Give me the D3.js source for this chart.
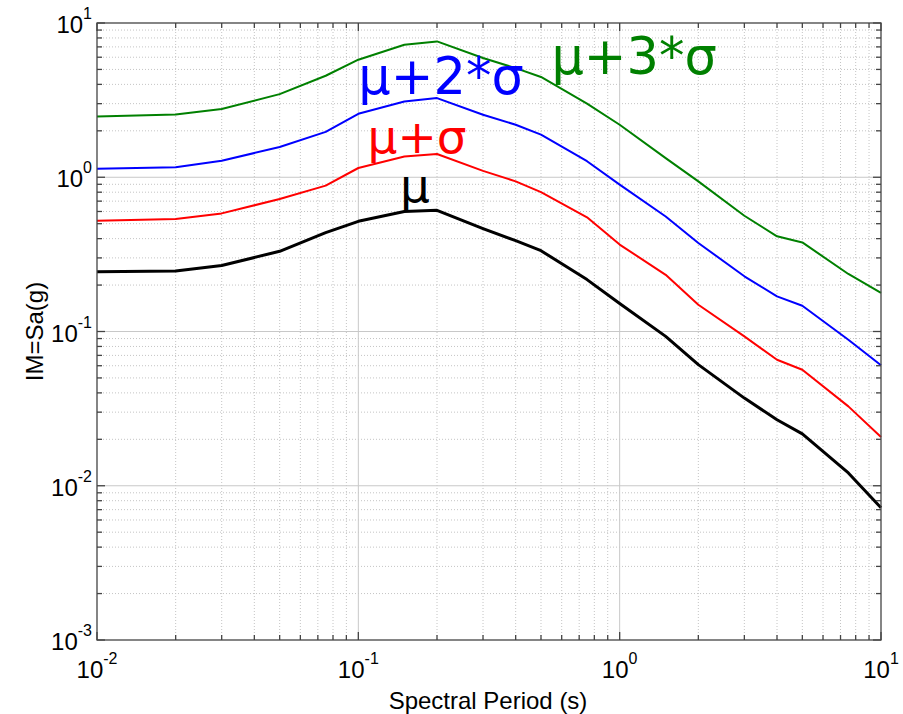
<!DOCTYPE html>
<html>
<head>
<meta charset="utf-8">
<script src="https://cdn.jsdelivr.net/npm/d3@7"></script>
<style>
  html, body { margin: 0; padding: 0; background: #fff; }
  svg { display: block; }
</style>
</head>
<body>
<svg id="chart" width="903" height="714"></svg>
<script>
// Spectral periods (s)
const periods = [0.01, 0.02, 0.03, 0.05, 0.075, 0.1, 0.15, 0.2, 0.3, 0.4, 0.5, 0.75, 1.0, 1.5, 2, 3, 4, 5, 7.5, 10];

// Spectral acceleration Sa (g) for each curve
const mu       = [0.244, 0.247, 0.268, 0.331, 0.437, 0.518, 0.600, 0.610, 0.465, 0.388, 0.334, 0.217, 0.152, 0.093, 0.061, 0.037, 0.0268, 0.0217, 0.0121, 0.0072];
const muPlus1  = [0.523, 0.536, 0.583, 0.723, 0.883, 1.148, 1.365, 1.415, 1.100, 0.940, 0.800, 0.550, 0.366, 0.233, 0.149, 0.093, 0.0656, 0.0565, 0.0327, 0.0207];
const muPlus2  = [1.135, 1.160, 1.280, 1.570, 1.970, 2.580, 3.100, 3.260, 2.540, 2.190, 1.890, 1.270, 0.895, 0.557, 0.375, 0.228, 0.169, 0.147, 0.0885, 0.0604];
const muPlus3  = [2.480, 2.550, 2.770, 3.460, 4.550, 5.780, 7.230, 7.600, 5.930, 5.100, 4.470, 3.000, 2.190, 1.330, 0.940, 0.563, 0.414, 0.378, 0.236, 0.178];

// Curve names, colours, and where each name sits (period, Sa)
const seriesNames  = ["μ", "μ+σ", "μ+2*σ", "μ+3*σ"];
const seriesColors = ["#000000", "#ff0000", "#0000ff", "#008000"];
const seriesWidths = [3, 2, 2, 2];
const labelPeriods = [0.1445, 0.1085, 0.1, 0.548];
const labelValues  = [0.696, 1.44, 3.49, 4.67];
const labelSizes   = [47, 47, 51, 51];

// Axis ranges and tick exponents
const xDomain = [0.01, 10];
const yDomain = [0.001, 10];
const xTickExps = [-2, -1, 0, 1];
const yTickExps = [-3, -2, -1, 0, 1];
const xTitle = "Spectral Period (s)";
const yTitle = "IM=Sa(g)";

const svg = d3.select("#chart");
const L = 97, R = 881, T = 23, B = 640;

const x = d3.scaleLog().domain(xDomain).range([L, R]);
const y = d3.scaleLog().domain(yDomain).range([B, T]);

// minor/major tick values
function logTicks(domain) {
  const out = [];
  const lo = Math.round(Math.log10(domain[0])), hi = Math.round(Math.log10(domain[1]));
  for (let e = lo; e < hi; e++) for (let m = 2; m <= 9; m++) out.push(m * Math.pow(10, e));
  return out;
}
const xMinor = logTicks(xDomain), yMinor = logTicks(yDomain);
const xMajor = xTickExps.map(e => Math.pow(10, e));
const yMajor = yTickExps.map(e => Math.pow(10, e));

const grid = svg.append("g");
// minor grid (dotted)
grid.selectAll(".gxm").data(xMinor).join("line")
  .attr("x1", d => x(d)).attr("x2", d => x(d)).attr("y1", T).attr("y2", B)
  .attr("stroke", "#c4c4c4").attr("stroke-width", 1).attr("stroke-dasharray", "1,2");
grid.selectAll(".gym").data(yMinor).join("line")
  .attr("x1", L).attr("x2", R).attr("y1", d => y(d)).attr("y2", d => y(d))
  .attr("stroke", "#c4c4c4").attr("stroke-width", 1).attr("stroke-dasharray", "1,2");
// major grid
grid.selectAll(".gxM").data(xMajor.slice(1, -1)).join("line")
  .attr("x1", d => x(d)).attr("x2", d => x(d)).attr("y1", T).attr("y2", B)
  .attr("stroke", "#c8c8c8").attr("stroke-width", 1);
grid.selectAll(".gyM").data(yMajor.slice(1, -1)).join("line")
  .attr("x1", L).attr("x2", R).attr("y1", d => y(d)).attr("y2", d => y(d))
  .attr("stroke", "#c8c8c8").attr("stroke-width", 1);

// curves
const allSeries = [mu, muPlus1, muPlus2, muPlus3];
const line = d3.line().x(d => x(d[0])).y(d => y(d[1]));
const curves = svg.append("g");
[3, 2, 1, 0].forEach(i => {
  curves.append("path")
    .datum(periods.map((p, k) => [p, allSeries[i][k]]))
    .attr("d", line)
    .attr("fill", "none")
    .attr("stroke", seriesColors[i])
    .attr("stroke-width", seriesWidths[i])
    .attr("stroke-linejoin", "round");
});

// frame and inward ticks on all four sides
const frame = svg.append("g").attr("stroke", "#444").attr("stroke-width", 1.3);
frame.append("rect").attr("x", L).attr("y", T).attr("width", R - L).attr("height", B - T).attr("fill", "none");
function ticksX(vals, len) {
  vals.forEach(v => {
    frame.append("line").attr("x1", x(v)).attr("x2", x(v)).attr("y1", B).attr("y2", B - len);
    frame.append("line").attr("x1", x(v)).attr("x2", x(v)).attr("y1", T).attr("y2", T + len);
  });
}
function ticksY(vals, len) {
  vals.forEach(v => {
    frame.append("line").attr("x1", L).attr("x2", L + len).attr("y1", y(v)).attr("y2", y(v));
    frame.append("line").attr("x1", R).attr("x2", R - len).attr("y1", y(v)).attr("y2", y(v));
  });
}
ticksX(xMinor, 5); ticksX(xMajor, 8);
ticksY(yMinor, 5); ticksY(yMajor, 8);

// tick labels: 10 with superscript exponent
const font = "'Liberation Sans', Arial, Helvetica, sans-serif";
const xl = svg.append("g").attr("font-family", font).attr("fill", "#000");
xTickExps.forEach(e => {
  const t = xl.append("text").attr("x", x(Math.pow(10, e))).attr("y", 678)
    .attr("text-anchor", "middle").attr("font-size", 24);
  t.append("tspan").text("10");
  t.append("tspan").attr("font-size", 16).attr("dy", -14).text(String(e));
});
yTickExps.forEach(e => {
  const t = xl.append("text").attr("x", 92).attr("y", y(Math.pow(10, e)) + 10)
    .attr("text-anchor", "end").attr("font-size", 24);
  t.append("tspan").text("10");
  t.append("tspan").attr("font-size", 16).attr("dy", -14).text(String(e));
});

// axis titles
svg.append("text").attr("x", (L + R) / 2 - 1).attr("y", 709)
  .attr("text-anchor", "middle").attr("font-family", font).attr("font-size", 24)
  .text(xTitle);
svg.append("text").attr("transform", `translate(43,${(T + B) / 2}) rotate(-90)`)
  .attr("text-anchor", "middle").attr("font-family", font).attr("font-size", 24)
  .text(yTitle);

// curve names
const labels = svg.append("g").attr("font-family", "'DejaVu Sans', sans-serif");
seriesNames.forEach((name, i) => {
  labels.append("text")
    .attr("x", x(labelPeriods[i])).attr("y", y(labelValues[i]))
    .attr("font-size", labelSizes[i])
    .attr("fill", seriesColors[i])
    .text(name);
});
</script>
</body>
</html>
